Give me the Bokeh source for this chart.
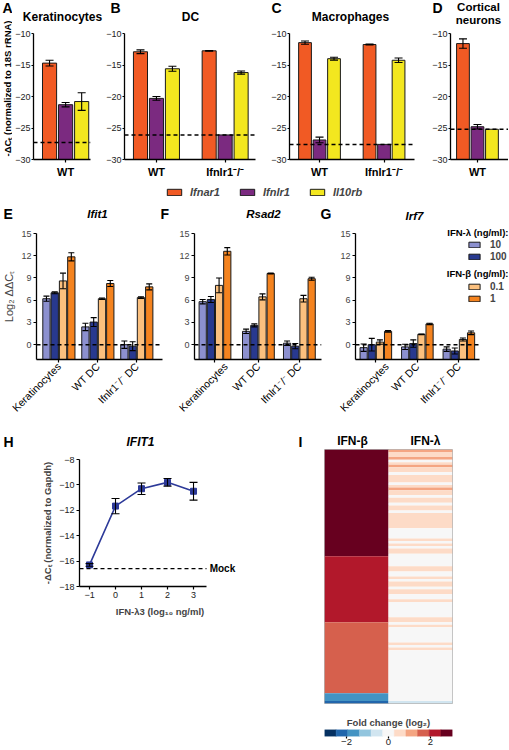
import math
import numpy as np
from bokeh.plotting import figure
from bokeh.models import (ColumnDataSource, Range1d, FixedTicker, Span, Label, Whisker,
                          TeeHead, Legend, LegendItem, LinearColorMapper)
from bokeh.layouts import row, column
from bokeh.embed import file_html
from bokeh.resources import INLINE

FONT = "Liberation Sans"

# ------------------------------------------------------------------ data
receptor_genes = ["Ifnar1", "Ifnlr1", "Il10rb"]
receptor_colors = ["#f15a24", "#7b2a80", "#f3e71f"]

# A  keratinocytes
kc_groups = ["WT"]
kc_ifnar1 = [-14.7]
kc_ifnar1_err = [0.45]
kc_ifnlr1 = [-21.3]
kc_ifnlr1_err = [0.35]
kc_il10rb = [-20.8]
kc_il10rb_err = [1.4]
kc_background = -27.3

# B  dendritic cells
dc_groups = ["WT", "Ifnlr1\u207b/\u207b"]
dc_ifnar1 = [-12.9, -12.75]
dc_ifnar1_err = [0.3, 0.06]
dc_ifnlr1 = [-20.3, -26.1]
dc_ifnlr1_err = [0.3, 0.0]
dc_il10rb = [-15.6, -16.2]
dc_il10rb_err = [0.4, 0.25]
dc_background = -26.1

# C  macrophages
mf_groups = ["WT", "Ifnlr1\u207b/\u207b"]
mf_ifnar1 = [-11.45, -11.75]
mf_ifnar1_err = [0.25, 0.06]
mf_ifnlr1 = [-26.9, -27.6]
mf_ifnlr1_err = [0.45, 0.0]
mf_il10rb = [-14.0, -14.25]
mf_il10rb_err = [0.22, 0.35]
mf_background = -27.6

# D  cortical neurons
cn_groups = ["WT"]
cn_ifnar1 = [-11.6]
cn_ifnar1_err = [0.75]
cn_ifnlr1 = [-24.8]
cn_ifnlr1_err = [0.35]
cn_il10rb = [-25.2]
cn_il10rb_err = [0.0]
cn_background = -25.2

# E-G  ISG induction
isg_cells = ["Keratinocytes", "WT DC", "Ifnlr1\u207b/\u207b DC"]
treatments = ["10", "100", "0.1", "1"]
treatment_colors = ["#8c90cf", "#28398f", "#fbc07e", "#f4831f"]

ifit1_vals = {"10": [6.2, 2.4, 0.0], "100": [7.0, 3.05, -0.2],
              "0.1": [8.6, 6.2, 6.35], "1": [11.85, 8.25, 7.8]}
ifit1_errs = {"10": [0.35, 0.5, 0.5], "100": [0.12, 0.6, 0.6],
              "0.1": [1.05, 0.1, 0.12], "1": [0.55, 0.4, 0.4]}

rsad2_vals = {"10": [5.8, 1.8, 0.2], "100": [6.1, 2.6, -0.2],
              "0.1": [8.0, 6.45, 6.2], "1": [12.6, 9.6, 8.9]}
rsad2_errs = {"10": [0.3, 0.3, 0.3], "100": [0.4, 0.2, 0.35],
              "0.1": [1.0, 0.4, 0.45], "1": [0.5, 0.05, 0.2]}

irf7_vals = {"10": [-0.4, -0.3, -0.6], "100": [0.0, 0.15, -0.85],
             "0.1": [0.35, 1.4, 0.7], "1": [1.8, 2.8, 1.6]}
irf7_errs = {"10": [0.5, 0.35, 0.3], "100": [0.85, 0.5, 0.4],
             "0.1": [0.3, 0.05, 0.2], "1": [0.1, 0.1, 0.25]}

# H  IFIT1 dose response
h_dose_log = [-1, 0, 1, 2, 3]
h_ifit1 = [-16.3, -11.67, -10.3, -9.8, -10.5]
h_ifit1_err = [0.1, 0.6, 0.45, 0.3, 0.7]
h_mock = -16.6

# I  heatmap (log2 fold change per gene, top to bottom)
heat_columns = ["IFN-\u03b2", "IFN-\u03bb"]
beta_levels = [3.0, 2.2, 1.7, -1.7, -2.3]
beta_counts = [42, 26, 28, 3, 1]
lambda_fc = [
    1.1, 0.6, 0.6, 1.1, 0.0, 0.6, 1.1, 0.6, 0.6, 0.0,
    0.6, 0.6, 0.6, 0.0, 0.6, 1.1, 0.6, 0.6, 0.0, 0.6,
    0.6, 0.0, 0.6, 0.6, 0.0, 0.6, 0.6, 0.6, 0.6, 0.6,
    0.6, 0.0, 0.0, 0.0, 0.0, 0.6, 0.0, 0.6, 0.0, 0.6,
    0.6, 0.0, 0.0, 0.0, 0.0, 0.0, 0.6, 0.6, 0.0, 0.0,
    0.6, 0.0, 0.6, 0.6, 0.0, 0.6, 0.6, 0.0, 0.0, 0.6,
    0.0, 0.0, 0.0, 0.0, 0.0, 0.0, 0.6, 0.6, 0.0, 0.6,
    0.0, 0.0, 0.0, 0.0, 0.0, 0.0, 0.6, 0.0, 0.6, 0.0,
    0.0, 0.0, 0.0, 0.0, 0.0, 0.0, 0.0, 0.0, 0.0, 0.0,
    0.0, 0.0, 0.0, 0.0, 0.0, 0.0, 0.0, 0.0, 0.0, -0.5,
]
fc_palette = ["#053061", "#2166ac", "#4393c3", "#92c5de", "#d1e5f0", "#f7f7f7",
              "#fddbc7", "#f4a582", "#d6604d", "#b2182b", "#67001f"]
fc_ticks = [-2, 0, 2]
fc_limit = 3.05

MINUS = "\u2212"


# ------------------------------------------------------------------ helpers
def minus_labels(ticks):
    return {t: str(t).replace("-", MINUS) for t in ticks}


def base_fig(width, height, left, right, top, bottom, xr, yr, **kw):
    p = figure(width=width, height=height, x_range=xr, y_range=yr,
               toolbar_location=None, output_backend="svg",
               min_border_left=left, min_border_right=right,
               min_border_top=top, min_border_bottom=bottom, **kw)
    p.outline_line_color = None
    p.grid.visible = False
    p.background_fill_color = "white"
    p.border_fill_color = "white"
    return p


def strip(width, height, x0, y0):
    """Text strip whose data coordinates are page pixels."""
    p = base_fig(width, height, 0, 0, 0, 0, Range1d(x0, x0 + width),
                 Range1d(y0 + height, y0), x_axis_location=None, y_axis_location=None)
    return p


def style_axis(ax, size="9px", color="#222222", tick_out=3, standoff=2):
    ax.axis_line_color = "black"
    ax.axis_line_width = 1.3
    ax.major_tick_line_color = "black"
    ax.major_tick_line_width = 1.2
    ax.major_tick_in = 0
    ax.major_tick_out = tick_out
    ax.minor_tick_line_color = None
    ax.major_label_text_font = FONT
    ax.major_label_text_font_size = size
    ax.major_label_text_color = color
    ax.major_label_standoff = standoff


def text(p, x, y, s, size="12px", style="bold", align="center", baseline="middle",
         angle=0, xu="data", yu="data", color="black"):
    p.add_layout(Label(x=x, y=y, x_units=xu, y_units=yu, text=s, text_font=FONT,
                       text_font_size=size, text_font_style=style, text_align=align,
                       text_baseline=baseline, angle=angle, text_color=color))


def whiskers(p, xs, vals, errs, head):
    keep = [i for i, e in enumerate(errs) if e > 0]
    if not keep:
        return
    src = ColumnDataSource(dict(
        x=[xs[i] for i in keep],
        up=[vals[i] + errs[i] for i in keep],
        lo=[vals[i] - errs[i] for i in keep]))
    w = Whisker(base="x", upper="up", lower="lo", source=src,
                line_color="black", line_width=1.1,
                upper_head=TeeHead(size=head, line_color="black", line_width=1.1),
                lower_head=TeeHead(size=head, line_color="black", line_width=1.1))
    w.level = "overlay"
    p.add_layout(w)


# ------------------------------------------------------------------ row 1 (A-D)
R1_H, R1_TOP, R1_FRAME, R1_BOT = 156, 7, 126, 23
Y1_LOW, Y1_HIGH = -30, -10
y1_ticks = [-30, -25, -20, -15, -10]


def receptor_panel(width, left, right, xr, centers, groups, values, errors, background):
    p = base_fig(width, R1_H, left, right, R1_TOP, R1_BOT, xr, Range1d(Y1_LOW, Y1_HIGH))
    for gi, (vals, errs, color) in enumerate(zip(values, errors, receptor_colors)):
        xs = [c + (gi - 1) for c in centers]
        src = ColumnDataSource(dict(x=xs, top=vals))
        p.vbar(x="x", top="top", bottom=Y1_LOW, width=0.88, source=src,
               fill_color=color, line_color="#1a1a1a", line_width=1)
        whiskers(p, xs, vals, errs, 8)
    p.add_layout(Span(location=background, dimension="width", line_color="black",
                      line_width=1.5, line_dash="4 3"))
    style_axis(p.yaxis[0], tick_out=2, standoff=1)
    p.yaxis.ticker = FixedTicker(ticks=y1_ticks)
    p.yaxis.major_label_overrides = minus_labels(y1_ticks)
    style_axis(p.xaxis[0], size="11px", color="black")
    p.xaxis.major_label_text_font_style = "bold"
    p.xaxis.major_label_standoff = 3
    p.xaxis.ticker = FixedTicker(ticks=centers)
    p.xaxis.major_label_overrides = {c: g for c, g in zip(centers, groups)}
    return p


pA = receptor_panel(91, 19, 13, Range1d(-1.0, 2.55), [1], kc_groups,
                    [kc_ifnar1, kc_ifnlr1, kc_il10rb],
                    [kc_ifnar1_err, kc_ifnlr1_err, kc_il10rb_err], kc_background)
pB = receptor_panel(165, 21, 13, Range1d(-1.0, 7.2), [1, 5.3], dc_groups,
                    [dc_ifnar1, dc_ifnlr1, dc_il10rb],
                    [dc_ifnar1_err, dc_ifnlr1_err, dc_il10rb_err], dc_background)
pC = receptor_panel(161, 21, 15, Range1d(-1.07, 7.55), [1, 5.45], mf_groups,
                    [mf_ifnar1, mf_ifnlr1, mf_il10rb],
                    [mf_ifnar1_err, mf_ifnlr1_err, mf_il10rb_err], mf_background)
pD = receptor_panel(79, 21, 0, Range1d(-0.86, 3.14), [1], cn_groups,
                    [cn_ifnar1, cn_ifnlr1, cn_il10rb],
                    [cn_ifnar1_err, cn_ifnlr1_err, cn_il10rb_err], cn_background)

# left strip with panel letter A and the shared y-axis title
sA = strip(12, 182, 0, 0)
text(sA, 2, 7, "A", size="14px", align="left")
text(sA, 6.5, 88, "-\u0394C\u209c (normalized to 18S rRNA)", size="9.5px",
     angle=math.pi / 2)

# header strip for row 1
h1 = strip(496, 26, 12, 0)
text(h1, 62, 16, "Keratinocytes", size="12px")
text(h1, 110, 7, "B", size="14px", align="left")
text(h1, 190, 16, "DC", size="12px")
text(h1, 271, 7, "C", size="14px", align="left")
text(h1, 350, 16, "Macrophages", size="12px")
text(h1, 432, 7, "D", size="14px", align="left")
text(h1, 478, 6, "Cortical", size="11.5px")
text(h1, 478, 19, "neurons", size="11.5px")

# ------------------------------------------------------------------ legend strip
pLeg = base_fig(508, 20, 0, 0, 0, 0, Range1d(0, 1), Range1d(0, 1),
                x_axis_location=None, y_axis_location=None)
leg_items = []
for gene, color in zip(receptor_genes, receptor_colors):
    # legend proxy glyph kept outside the visible range
    r = pLeg.vbar(x=[0.5], bottom=[-2], top=[-1], width=1, fill_color=color,
                  line_color="#1a1a1a", line_width=1)
    leg_items.append(LegendItem(label=gene, renderers=[r]))
legA = Legend(items=leg_items, location=(165, 4), orientation="horizontal",
              glyph_width=18, glyph_height=8, label_standoff=7, spacing=18,
              padding=0, margin=0, label_height=12,
              label_text_font=FONT, label_text_font_size="11px",
              label_text_font_style="bold italic", border_line_color=None,
              background_fill_alpha=0)
pLeg.add_layout(legA)

# ------------------------------------------------------------------ row 2 (E-G)
R2_BOT = 74
Y2_LOW, Y2_HIGH = -2, 15
y2_ticks = [0, 3, 6, 9, 12, 15]
PX_PER_UNIT2 = 126 / (Y2_HIGH - Y2_LOW)


def isg_panel(width, height, left, right, top, xr, x_end, centers, vals_by_t, errs_by_t):
    frame_h = height - top - R2_BOT
    y_high = Y2_LOW + frame_h / PX_PER_UNIT2
    p = base_fig(width, height, left, right, top, R2_BOT, xr, Range1d(Y2_LOW, y_high))
    rends = []
    for ti, (t, color) in enumerate(zip(treatments, treatment_colors)):
        xs = [c + (ti - 1.5) for c in centers]
        src = ColumnDataSource(dict(x=xs, top=vals_by_t[t]))
        r = p.vbar(x="x", top="top", bottom=Y2_LOW, width=0.88, source=src,
                   fill_color=color, line_color="#1a1a1a", line_width=1)
        rends.append(r)
        whiskers(p, xs, vals_by_t[t], errs_by_t[t], 6)
    p.line(x=[xr.start, x_end], y=[0, 0], line_color="black", line_width=1.5,
           line_dash="4 3")
    style_axis(p.yaxis[0], color="#444444")
    p.yaxis.ticker = FixedTicker(ticks=y2_ticks)
    p.yaxis.bounds = (Y2_LOW, Y2_HIGH)
    style_axis(p.xaxis[0], size="10.5px", color="black")
    p.xaxis.ticker = FixedTicker(ticks=centers)
    p.xaxis.bounds = (xr.start, x_end)
    p.xaxis.major_label_overrides = {c: lab for c, lab in zip(centers, isg_cells)}
    p.xaxis.major_label_orientation = math.pi / 4
    return p, rends


pE, _ = isg_panel(176, 209, 33, 14, 9, Range1d(-1.2, 14.0), 14.0,
                  [1.5, 6.2, 10.9], ifit1_vals, ifit1_errs)
pE.yaxis.axis_label = "Log\u2082 \u0394\u0394C\u209c"
pE.yaxis.axis_label_text_font = FONT
pE.yaxis.axis_label_text_font_size = "11px"
pE.yaxis.axis_label_text_font_style = "normal"
pE.yaxis.axis_label_standoff = 3

pF, _ = isg_panel(161, 209, 18, 16, 9, Range1d(-1.0, 14.5), 14.5,
                  [1.5, 6.8, 11.8], rsad2_vals, rsad2_errs)

# G: taller frame (title and legend live inside it)
pG, g_rends = isg_panel(171, 231, 16, 0, 8, Range1d(-1.0, 17.8), 14.2,
                        [1.5, 6.6, 11.7], irf7_vals, irf7_errs)
text(pG, 59, 144, "Irf7", size="11.5px", style="bold italic", xu="screen", yu="screen")
text(pG, 153, 127, "IFN-\u03bb (ng/ml):", size="9.5px", align="right",
     xu="screen", yu="screen")
text(pG, 153, 86, "IFN-\u03b2 (ng/ml):", size="9.5px", align="right",
     xu="screen", yu="screen")
for items, loc in (([0, 1], (112, 97)), ([2, 3], (112, 55))):
    lg = Legend(items=[LegendItem(label=treatments[i], renderers=[g_rends[i]]) for i in items],
                location=loc, orientation="vertical", glyph_width=14, glyph_height=7,
                label_standoff=9, spacing=0, padding=0, margin=0, label_height=12,
                label_text_font=FONT, label_text_font_size="10px",
                label_text_font_style="bold", border_line_color=None,
                background_fill_alpha=0)
    pG.add_layout(lg)

h2 = strip(337, 22, 0, 202)
text(h2, 3, 213, "E", size="14px", align="left")
text(h2, 97, 213, "Ifit1", size="11.5px", style="bold italic")
text(h2, 160, 213, "F", size="14px", align="left")
text(h2, 263, 213, "Rsad2", size="11.5px", style="bold italic")
text(h2, 320, 213, "G", size="14px", align="left")

# ------------------------------------------------------------------ row 3 (H, I)
H_COLOR = "#2d3a99"
h_yticks = [-18, -16, -14, -12, -10, -8]
h_xr = Range1d(-1.385, 4.807)
h_x_end = 3.5
pH = base_fig(285, 300, 79, 45, 11, 162, h_xr, Range1d(-18, -8))
hsrc = ColumnDataSource(dict(x=h_dose_log, y=h_ifit1))
pH.line("x", "y", source=hsrc, line_color=H_COLOR, line_width=1.6)
pH.scatter("x", "y", source=hsrc, marker="square", size=6,
           fill_color=H_COLOR, line_color=H_COLOR)
whiskers(pH, h_dose_log, h_ifit1, h_ifit1_err, 8)
pH.line(x=[h_xr.start, h_x_end], y=[h_mock, h_mock], line_color="black",
        line_width=1.3, line_dash="4 3")
text(pH, 3.62, h_mock, "Mock", size="10px", align="left")
style_axis(pH.yaxis[0])
pH.yaxis.ticker = FixedTicker(ticks=h_yticks)
pH.yaxis.major_label_overrides = minus_labels(h_yticks)
style_axis(pH.xaxis[0])
pH.xaxis.ticker = FixedTicker(ticks=h_dose_log)
pH.xaxis.major_label_overrides = minus_labels(h_dose_log)
pH.xaxis.bounds = (h_xr.start, h_x_end)
for ax, lab, so in ((pH.yaxis[0], "-\u0394C\u209c (normalized to Gapdh)", 3),
                    (pH.xaxis[0], "IFN-\u03bb3 (log\u2081\u2080 ng/ml)", 5)):
    ax.axis_label = lab
    ax.axis_label_text_font = FONT
    ax.axis_label_text_font_size = "9.5px"
    ax.axis_label_text_font_style = "bold"
    ax.axis_label_standoff = so

# heatmap: consecutive equal cells of a column are merged into one block
mapper = LinearColorMapper(palette=fc_palette, low=-fc_limit, high=fc_limit)
beta_fc = [float(v) for v in np.repeat(beta_levels, beta_counts)]
n_rows = len(lambda_fc)
hx, hy, hh, hv = [], [], [], []
for ci, col_vals in enumerate([beta_fc, lambda_fc]):
    start = 0
    for i in range(1, n_rows + 1):
        if i == n_rows or col_vals[i] != col_vals[start]:
            hx.append(ci)
            hy.append((start + i - 1) / 2)
            hh.append(i - start)
            hv.append(col_vals[start])
            start = i
hm_src = ColumnDataSource(dict(x=hx, y=hy, h=hh, v=hv))
pI = base_fig(223, 256, 30, 47, 1, 1, Range1d(-0.5, 1.5), Range1d(n_rows - 0.5, -0.5),
              x_axis_location=None, y_axis_location=None)
pI.rect(x="x", y="y", width=1, height="h", source=hm_src,
        fill_color={"field": "v", "transform": mapper}, line_color=None)
pI.outline_line_color = "#b5b5b5"
pI.outline_line_width = 1

# colour bar
pCb = base_fig(223, 44, 39, 56, 25, 12, Range1d(-fc_limit, fc_limit), Range1d(0, 1),
               y_axis_location=None)
binw = 2 * fc_limit / len(fc_palette)
pCb.rect(x=[-fc_limit + (i + 0.5) * binw for i in range(len(fc_palette))],
         y=[0.5] * len(fc_palette), width=binw, height=1,
         fill_color=fc_palette, line_color=fc_palette, line_width=0.5)
ca = pCb.xaxis[0]
style_axis(ca, size="9.5px", tick_out=2, standoff=0)
ca.axis_line_color = None
ca.ticker = FixedTicker(ticks=fc_ticks)
ca.major_label_overrides = minus_labels(fc_ticks)
pCb.title.text = "Fold change (log\u2082)"
pCb.title.align = "center"
pCb.title.text_font = FONT
pCb.title.text_font_size = "9.5px"
pCb.title.text_font_style = "bold"
pCb.title.standoff = 3

h3 = strip(508, 15, 0, 433)
text(h3, 3, 441, "H", size="14px", align="left")
text(h3, 140, 441, "IFIT1", size="12px", style="bold italic")
text(h3, 298, 441, "I", size="14px", align="left")
text(h3, 352, 440, heat_columns[0], size="12px")
text(h3, 425, 440, heat_columns[1], size="12px")

layout = column(
    row(sA, column(h1, row(pA, pB, pC, pD))),
    pLeg,
    row(column(h2, row(pE, pF)), pG),
    h3,
    row(pH, column(pI, pCb)),
)

open("out.html", "w").write(file_html(layout, INLINE))
